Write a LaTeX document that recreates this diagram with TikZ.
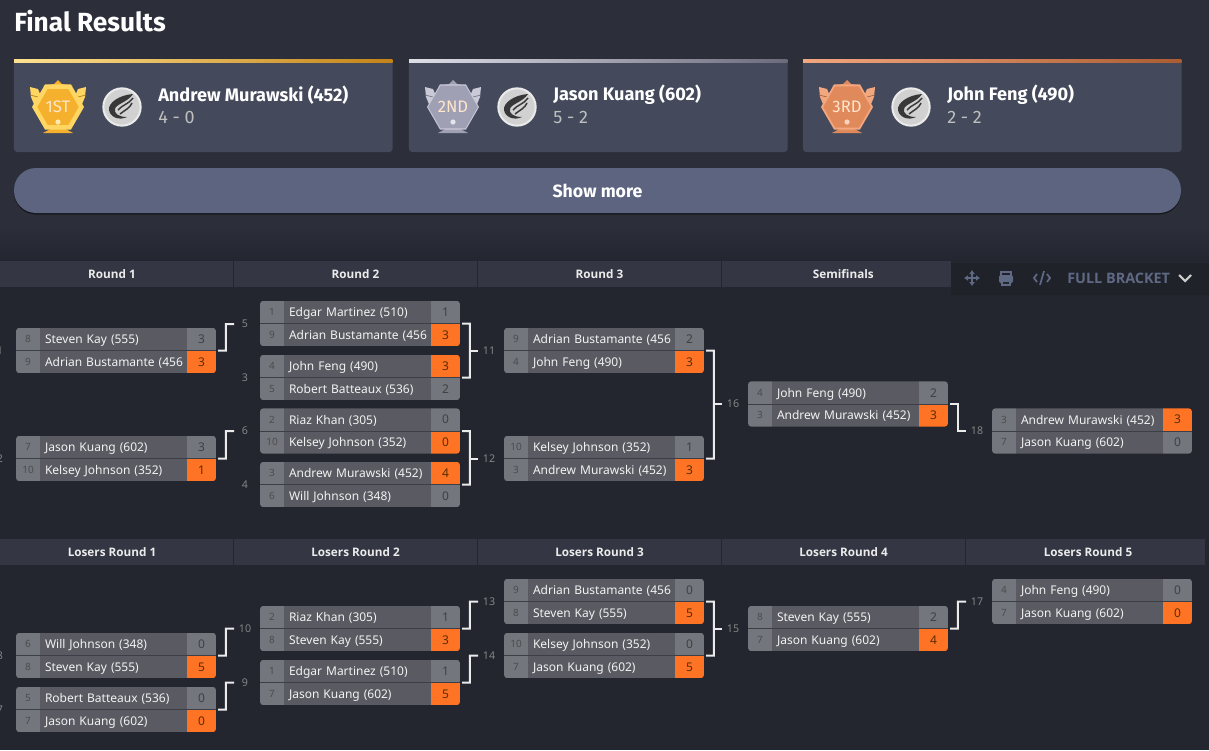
\documentclass[tikz,border=0pt]{standalone}
\usepackage{fontspec}
\usepackage{xcolor}
\usetikzlibrary{positioning,arrows.meta,calc,shapes.geometric}
\setmainfont{Noto Sans}
\newfontfamily\headfont{Fira Sans}
\newfontfamily\barfont{Open Sans}
\definecolor{PageTop}{HTML}{2C2F3A}
\definecolor{PageLow}{HTML}{23252F}
\definecolor{HdrCell}{HTML}{343743}
\definecolor{ToolBar}{HTML}{20222A}
\definecolor{ToolBlue}{HTML}{5F6984}
\definecolor{CardBody}{HTML}{444A5C}
\definecolor{ShowBtn}{HTML}{5C6480}
\definecolor{SeedGrey}{HTML}{74767D}
\definecolor{NameGrey}{HTML}{5A5B62}
\definecolor{RowLine}{HTML}{3C3E48}
\definecolor{WinOrange}{HTML}{FF7324}
\definecolor{GoldA}{HTML}{FFD662}
\definecolor{GoldB}{HTML}{F5B02E}
\definecolor{GoldC}{HTML}{E59A1C}
\definecolor{SilverA}{HTML}{C9C9D8}
\definecolor{SilverB}{HTML}{A0A0B4}
\definecolor{SilverC}{HTML}{85859B}
\definecolor{BronzeA}{HTML}{F3A77E}
\definecolor{BronzeB}{HTML}{E08A5C}
\definecolor{BronzeC}{HTML}{C96C3C}

% one card body with its strip, medal, logo and texts
\newcommand{\resultcard}[9]{%
  \node[cardbox] (#1) at (#2+189.3,105.5) {};
  \fill[left color=#6, right color=#7] (#2,59) rectangle (#2+378.7,62);
  \fill[#5] ($(#3,107)+(-20,-18)$) -- ++(-8,-2) -- ++(1,10) -- ++(5,12) -- ++(14,8) -- cycle;
  \fill[#5] ($(#3,107)+(20,-18)$) -- ++(8,-2) -- ++(-1,10) -- ++(-5,12) -- ++(-14,8) -- cycle;
  \draw[#4!70!black, line width=0.5pt] ($(#3,107)+(-28,-12)$) -- ++(8,2) ($(#3,107)+(28,-12)$) -- ++(-8,2);
  \fill[#4] ($(#3,107)+(0,-27)$) -- ++(4,4) -- ++(11,2) -- ++(-30,0) -- ++(11,-2) -- cycle;
  \fill[#4] ($(#3,107)+(-15,26)$) -- ++(30,0) -- ++(-15,-8) -- cycle;
  \node[medalhex, fill=#5] (#1-hex) at (#3,107) {};
  \node[medalface, fill=#4] (#1-face) at (#3,107) {\headfont #8};
  \fill[#5!50!white] ($(#3,107)+(0,15)$) circle (2.6);
  \node[logoring] (#1-logo) at (#3+64,107) {};
  \fill[black!78] ($(#3+64,107)+(11,-13)$) .. controls ($(#3+64,107)+(-3,-12)$) and ($(#3+64,107)+(-14,-4)$) .. ($(#3+64,107)+(-13,3)$)
     .. controls ($(#3+64,107)+(-12,10)$) and ($(#3+64,107)+(-3,14)$) .. ($(#3+64,107)+(5,10)$)
     .. controls ($(#3+64,107)+(-4,10)$) and ($(#3+64,107)+(-8,6)$) .. ($(#3+64,107)+(-7,2)$)
     .. controls ($(#3+64,107)+(-6,-3)$) and ($(#3+64,107)+(6,-5)$) .. ($(#3+64,107)+(11,-13)$) -- cycle;
  \draw[black!78, line width=1.1pt] ($(#3+64,107)+(-4,3)$) .. controls ($(#3+64,107)+(0,-2)$) and ($(#3+64,107)+(7,-3)$) .. ($(#3+64,107)+(11,-9)$);
  \draw[black!78, line width=1.1pt] ($(#3+64,107)+(-2,7)$) .. controls ($(#3+64,107)+(3,3)$) and ($(#3+64,107)+(8,1)$) .. ($(#3+64,107)+(10,-4)$);
  \node[winnername] (#1-name) at (#3+100,95) {#9};
}

\begin{document}
\begin{tikzpicture}[x=0.75pt, y=-0.75pt,
    hdrcell/.style={fill=HdrCell, text=white!92!black, font=\barfont\fontsize{8.8pt}{11pt}\selectfont\bfseries,
                    minimum height=19.5pt, inner sep=0pt, outer sep=0pt},
    cardbox/.style={fill=CardBody, minimum width=284pt, minimum height=69.75pt, inner sep=0pt,
                    rounded corners=2.5pt},
    medalhex/.style={regular polygon, regular polygon sides=6, minimum size=39pt, inner sep=0pt},
    medalface/.style={regular polygon, regular polygon sides=6, minimum size=31pt, inner sep=0pt,
                      text=white!80!orange, font=\fontsize{12.5pt}{12pt}\selectfont},
    logoring/.style={circle, draw=white!92!black, line width=1.5pt, fill=black!18, minimum size=28pt, inner sep=0pt},
    winnername/.style={anchor=west, inner sep=0pt, text=white, font=\headfont\fontsize{13.6pt}{15pt}\selectfont\bfseries},
    winnerscore/.style={anchor=west, inner sep=0pt, text=white!75!black, font=\headfont\fontsize{13.5pt}{15pt}\selectfont},
    matchcard/.style={minimum width=150pt, minimum height=34pt, inner sep=0pt, outer sep=0pt},
    seedcell/.style={fill=SeedGrey, minimum width=18pt, minimum height=17pt, inner sep=0pt, outer sep=0pt,
                     text=black!70, font=\fontsize{7.5pt}{9pt}\selectfont},
    namecell/.style={fill=NameGrey, minimum height=17pt, text width=102.75pt, text height=8.6pt, text depth=2pt,
                     inner xsep=3.75pt, inner ysep=0pt, outer sep=0pt,
                     align=left, text=white!95!black, font=\fontsize{9pt}{11pt}\selectfont},
    scorecell/.style={minimum width=21.75pt, minimum height=17pt, inner sep=0pt, outer sep=0pt,
                      font=\fontsize{9pt}{11pt}\selectfont},
    lose/.style={fill=SeedGrey, text=black!75},
    win/.style={fill=WinOrange, text=black!65!orange},
    roundno/.style={minimum width=16.5pt, inner sep=0pt, outer sep=0pt, minimum height=10pt, text=white!52!black,
                    font=\fontsize{8pt}{10pt}\selectfont},
    link/.style={draw=white!92!black, line width=1.5pt},
    tool/.style={draw=ToolBlue, line width=1.3pt},
  ]
  \useasboundingbox (0,0) rectangle (1209,750);
  \fill[PageTop] (0,0) rectangle (1209,225);
  \fill[top color=PageTop, bottom color=PageLow] (0,225) rectangle (1209,262);
  \fill[PageLow] (0,262) rectangle (1209,750);

  \node[anchor=west, inner sep=0pt, text=white, font=\headfont\fontsize{19.7pt}{22pt}\selectfont\bfseries] (title) at (14,21) {Final Results};

  % the three placings
  \resultcard{first}{14}{58}{GoldB}{GoldA}{GoldA!70!white}{GoldC!85!black}{1ST}{Andrew Murawski (452)}
  \resultcard{second}{409}{453}{SilverB}{SilverA}{SilverA!60!white}{SilverC!80!black}{2ND}{Jason Kuang (602)}
  \resultcard{third}{803}{847}{BronzeB}{BronzeA}{BronzeA}{BronzeC!85!black}{3RD}{John Feng (490)}
  \node[winnerscore] (firstrec) at (158,117) {4 - 0};
  \node[winnerscore] (secondrec) at (553,117) {5 - 2};
  \node[winnerscore] (thirdrec) at (947,117) {2 - 2};

  \fill[black!50!PageTop, rounded corners=16.5pt] (14,170) rectangle (1181,214.5);
  \node[fill=ShowBtn, rounded corners=16.5pt, minimum width=875.25pt, minimum height=33.75pt, inner sep=0pt,
        text=white, font=\headfont\fontsize{13.3pt}{15pt}\selectfont\bfseries] (showmore) at (597.5,190.5) {Show more};

  % round headers
  \foreach \hname/\hx/\hw/\htxt in {ha/112/181.5/Round 1, hb/355.5/182.25/Round 2, hc/599.5/182.25/Round 3,
                                     hd/836/171.75/\hspace*{11pt}Semifinals}
    \node[hdrcell, minimum width=\hw pt] (\hname) at (\hx,274) {\htxt};
  \foreach \hname/\hx/\hw/\htxt in {la/112/181.5/Losers Round 1, lb/355.5/182.25/Losers Round 2, lc/599.5/182.25/Losers Round 3,
                                     ld/843.5/182.25/Losers Round 4, le/1085.5/179.25/\hspace*{3.75pt}Losers Round 5}
    \node[hdrcell, minimum width=\hw pt] (\hname) at (\hx,552) {\htxt};

  % toolbar
  \fill[ToolBar] (951,263) rectangle (1209,295);
  \draw[tool, line width=1.1pt, {Latex[length=3pt,width=4.5pt]}-{Latex[length=3pt,width=4.5pt]}] (964,278) -- (980,278);
  \draw[tool, line width=1.1pt, {Latex[length=3pt,width=4.5pt]}-{Latex[length=3pt,width=4.5pt]}] (972,270) -- (972,286);
  \draw[tool] (1001,276) -- (1001,272) -- (1011,272) -- (1011,276);
  \fill[ToolBlue, rounded corners=1.5pt] (999,275) rectangle (1013,283);
  \fill[ToolBar] (1001,280) rectangle (1011,283);
  \draw[tool] (1002,281) rectangle (1010,285);
  \draw[tool] (1037,274) -- (1034,278) -- (1037,282);
  \draw[tool] (1047,274) -- (1050,278) -- (1047,282);
  \draw[tool] (1044,271) -- (1040,285);
  \node[anchor=west, inner sep=0pt, text=ToolBlue, font=\barfont\fontsize{10.8pt}{12pt}\selectfont\bfseries] (fullbr) at (1067,278) {FULL BRACKET};
  \draw[white!80!black, line width=1.6pt] (1179,275) -- (1185,281) -- (1191,275);

  % matches: name/left/middle/seed/player/score twice, then the style of each score
  \foreach \mtag/\mx/\my/\sa/\pa/\va/\sb/\pb/\vb/\wa/\wb in {
      wa/16/350.5/8/Steven Kay (555)/3/9/Adrian Bustamante (456/3/lose/win,
      wb/16/458.5/7/Jason Kuang (602)/3/10/Kelsey Johnson (352)/1/lose/win,
      wc/260/323.5/1/Edgar Martinez (510)/1/9/Adrian Bustamante (456/3/lose/win,
      wd/260/377.5/4/John Feng (490)/3/5/Robert Batteaux (536)/2/win/lose,
      we/260/431/2/Riaz Khan (305)/0/10/Kelsey Johnson (352)/0/lose/win,
      wf/260/484.5/3/Andrew Murawski (452)/4/6/Will Johnson (348)/0/win/lose,
      wg/504/350.5/9/Adrian Bustamante (456/2/4/John Feng (490)/3/lose/win,
      wh/504/458.5/10/Kelsey Johnson (352)/1/3/Andrew Murawski (452)/3/lose/win,
      wi/748/404/4/John Feng (490)/2/3/Andrew Murawski (452)/3/lose/win,
      wj/992/431/3/Andrew Murawski (452)/3/7/Jason Kuang (602)/0/win/lose,
      xa/16/655.5/6/Will Johnson (348)/0/8/Steven Kay (555)/5/lose/win,
      xb/16/709.5/5/Robert Batteaux (536)/0/7/Jason Kuang (602)/0/lose/win,
      xc/260/628.5/2/Riaz Khan (305)/1/8/Steven Kay (555)/3/lose/win,
      xd/260/682.5/1/Edgar Martinez (510)/1/7/Jason Kuang (602)/5/lose/win,
      xe/504/601.5/9/Adrian Bustamante (456/0/8/Steven Kay (555)/5/lose/win,
      xf/504/655.5/10/Kelsey Johnson (352)/0/7/Jason Kuang (602)/5/lose/win,
      xg/748/628.5/8/Steven Kay (555)/2/7/Jason Kuang (602)/4/lose/win,
      xh/992/601.5/4/John Feng (490)/0/7/Jason Kuang (602)/0/lose/win} {
    \node[matchcard] (\mtag) at (\mx+100,\my) {};
    \begin{scope}
      \clip[rounded corners=2.5pt] (\mtag.north west) rectangle (\mtag.south east);
      \node[seedcell, anchor=north west] (\mtag-sa) at (\mtag.north west) {\sa};
      \node[namecell, right=0pt of \mtag-sa] (\mtag-pa) {\mbox{\pa}};
      \node[scorecell, \wa, right=0pt of \mtag-pa] (\mtag-va) {\va};
      \node[seedcell, below=0pt of \mtag-sa] (\mtag-sb) {\sb};
      \node[namecell, right=0pt of \mtag-sb] (\mtag-pb) {\mbox{\pb}};
      \node[scorecell, \wb, right=0pt of \mtag-pb] (\mtag-vb) {\vb};
      \draw[RowLine, line width=0.75pt] (\mtag.west) -- (\mtag.east);
    \end{scope}
  }

  % round numbers
  \foreach \rtag/\rx/\ry/\rtxt in {na/0/350.5/1, nb/0/458.5/2, nc/245/324/5, nd/245/378/3, ne/245/431/6, nf/245/485/4,
      ng/489/350.5/11, nh/489/458.5/12, ni/733/404/16, nj/977/431/18,
      oa/0/655.5/8, ob/0/709.5/7, oc/245/628.5/10, od/245/682.5/9, oe/489/601.5/13, of/489/655.5/14, og/733/628.5/15, oh/977/601.5/17}
    \node[roundno] (\rtag) at (\rx,\ry) {\rtxt};

  % brackets
  \foreach \afrom/\ato in {wa/nc, wb/ne, wi/nj, xa/oc, xb/od, xc/oe, xd/of, xg/oh} {
    \coordinate (\ato-knee) at ($(\afrom.east)!0.55!(\ato.west |- \afrom.east)$);
    \draw[link] ([xshift=1.5pt]\afrom.east) -- (\ato-knee) |- (\ato.west);
  }
  \foreach \afrom/\bfrom/\ato in {wc/wd/ng, we/wf/nh, wg/wh/ni, xe/xf/og} {
    \coordinate (\ato-knee) at ($(\afrom.east)!0.55!(\ato.west |- \afrom.east)$);
    \draw[link] ([xshift=1.5pt]\afrom.east) -- (\ato-knee) |- ([xshift=1.5pt]\bfrom.east);
    \draw[link] (\ato-knee |- \ato.west) -- (\ato.west);
  }
\end{tikzpicture}
\end{document}
